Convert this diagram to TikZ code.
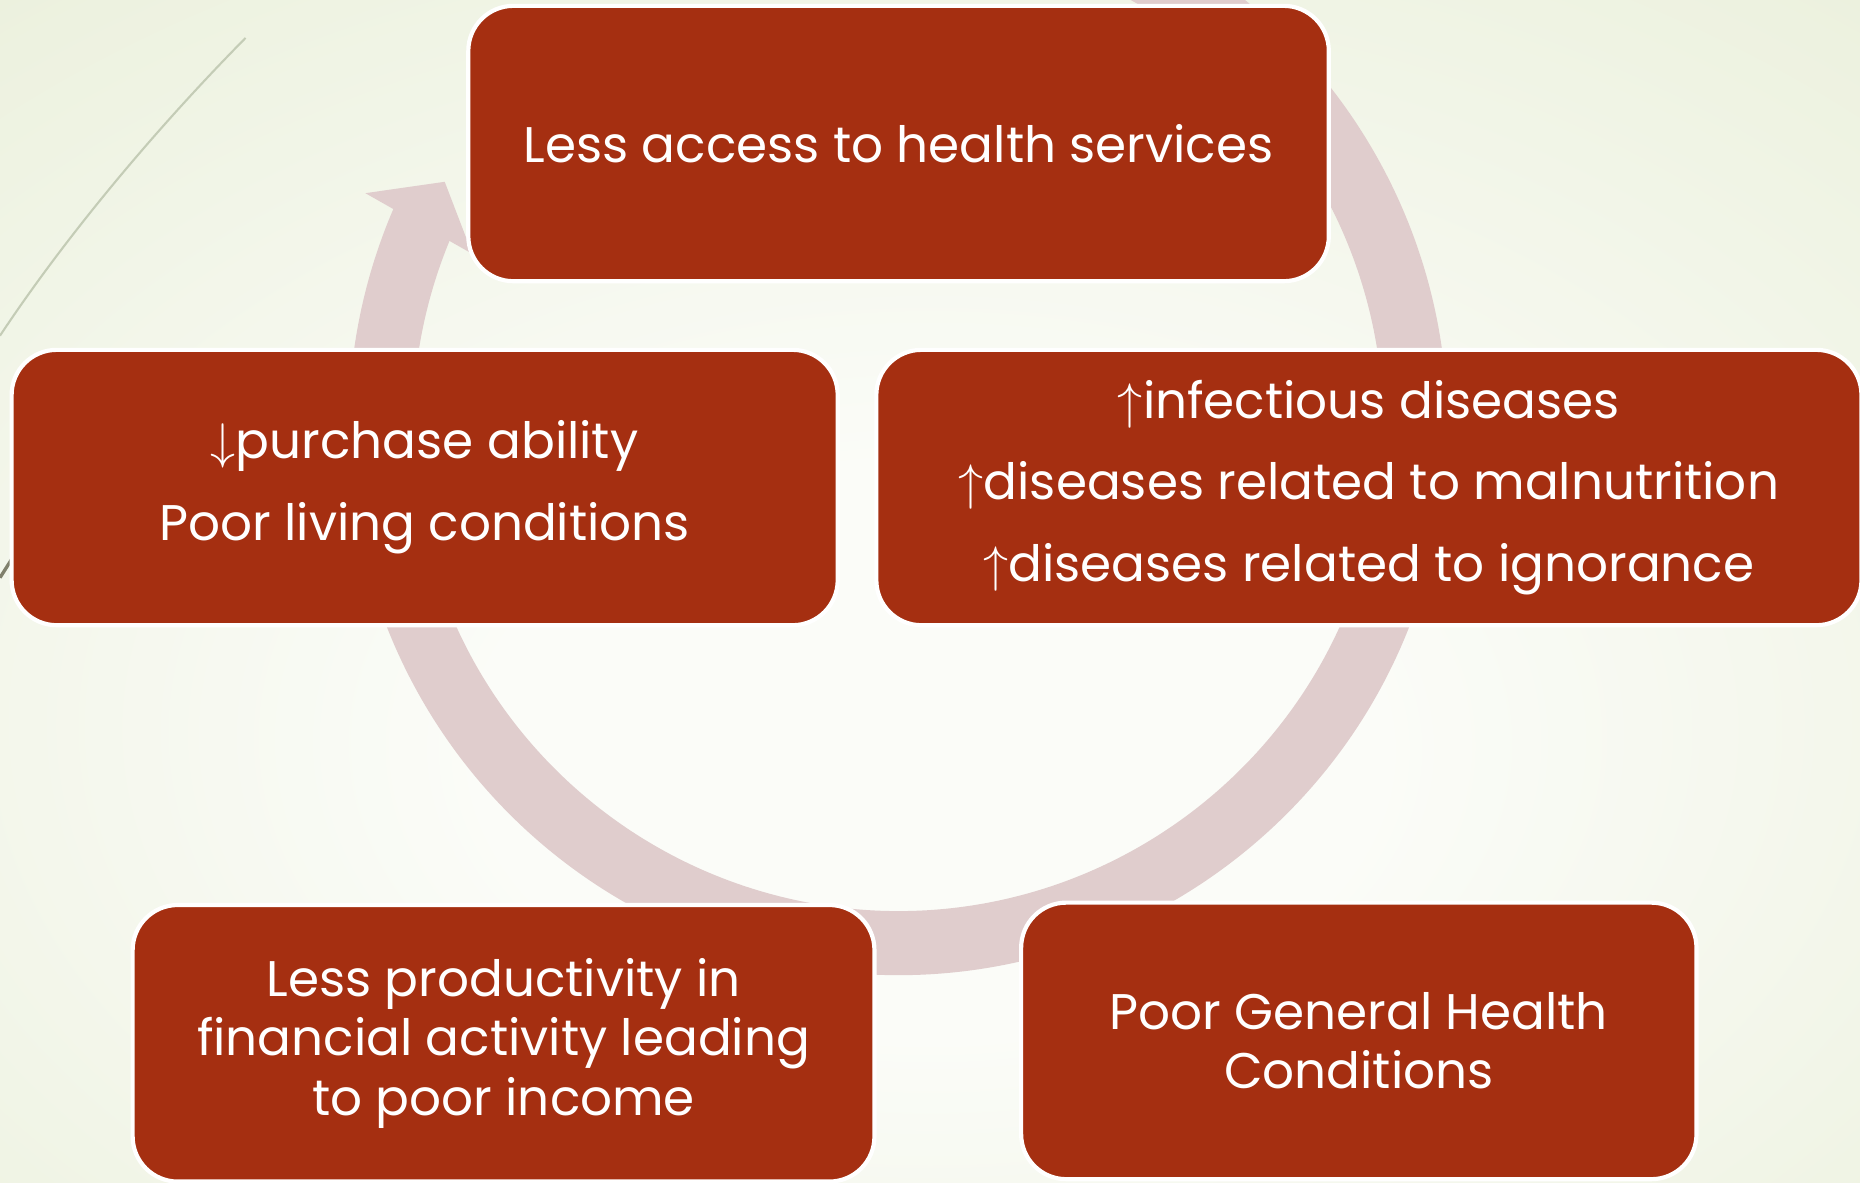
\documentclass[tikz,border=0pt]{standalone}
\usepackage{fontspec}
\setmainfont{Poppins}
\usepackage{tikz}
\definecolor{boxred}{RGB}{165,47,17}
\definecolor{ringpink}{RGB}{224,205,205}
\definecolor{bgedge}{RGB}{225,233,203}
\definecolor{bgcenter}{RGB}{251,252,248}
\definecolor{wispline}{RGB}{196,204,182}
\definecolor{wispdark}{RGB}{128,128,108}
\pgfdeclareradialshading{wispbg}{\pgfpoint{0bp}{-8bp}}{color(0bp)=(bgcenter); color(12bp)=(bgcenter); color(58bp)=(bgedge); color(80bp)=(bgedge)}
\newcommand{\up}{\smash{$\uparrow$}}
\newcommand{\down}{\smash{$\downarrow$}}
\tikzset{
	cyclebox/.style={draw=white, line width=1pt, fill=boxred, rounded corners=0.38cm, text=white, align=center, inner sep=0pt, font=\fontsize{12}{14.2}\selectfont},
	cyclering/.style={draw=ringpink, line width=0.54cm},
}
\begin{document}
\begin{tikzpicture}[
		x=0.01cm, y=-0.01cm
		]
		\useasboundingbox (0,0) rectangle (1568,997);
		\shade[shading=wispbg] (0,0) rectangle (1568,997);
		\draw[wispline, line width=0.5pt] (207,32) .. controls (130,110) and (55,200) .. (0,283);
		\draw[wispdark, line width=0.8pt] (0,487) -- (12,468);
		% cycle arrow behind the boxes
		\coordinate (ctr) at (757,359);
		\draw[cyclering] ([shift={(-80:436)}]ctr) arc[start angle=-80, end angle=203.3, radius=436];
		\fill[ringpink] ([shift={(203.6:490)}]ctr) -- ([shift={(208.3:434)}]ctr) -- ([shift={(202:387)}]ctr) -- cycle;
		% boxes
		\node[cyclebox, minimum width=7.25cm, minimum height=2.32cm] (access) at (757.5,121) {Less access to health services};
		\node[cyclebox, minimum width=6.96cm, minimum height=2.32cm] (purchase) at (358,411) {\down purchase ability\\[5.4pt]Poor living conditions};
		\node[cyclebox, minimum width=8.30cm, minimum height=2.32cm] (diseases) at (1154,411) {\up infectious diseases\\[5.4pt]\up diseases related to malnutrition\\[5.4pt]\up diseases related to ignorance};
		\node[cyclebox, minimum width=6.25cm, minimum height=2.33cm] (income) at (424.5,879.5) {Less productivity in\\financial activity leading\\to poor income};
		\node[cyclebox, minimum width=5.69cm, minimum height=2.33cm] (health) at (1145.5,877.5) {Poor General Health\\Conditions};
	\end{tikzpicture}
\end{document}
